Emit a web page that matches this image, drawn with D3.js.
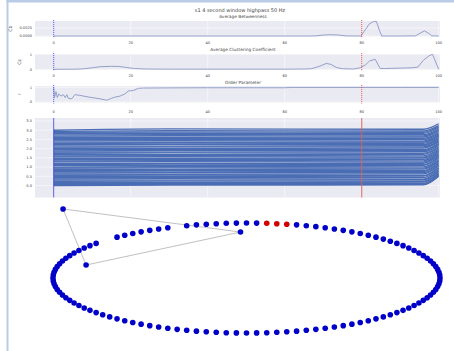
<!DOCTYPE html>
<html>
<head>
<meta charset="utf-8">
<script src="https://cdn.jsdelivr.net/npm/d3@7"></script>
<style>
  body { margin: 0; background: #fff; }
  text { font-family: "DejaVu Sans", sans-serif; fill: #444; }
</style>
</head>
<body>
<svg width="454" height="351"></svg>
<script>
// Sync panels + network snapshot

// ---- data ----
const ticksX = [0, 20, 40, 60, 80, 100];
const markBlue = 0, markRed = 80;

// average betweenness
const btT = [0, 10, 30, 50, 66, 68, 70, 72, 74, 76, 79.8, 81, 82, 83, 83.8, 84.6, 85.2, 90, 94, 95.2, 96.3, 97.3, 98.2, 100];
const btV = [0, 0, 0, 0, 0, 0.00003, 0.0003, 0.0004, 0.0003, 0.00003, 0, 0.0021, 0.0038, 0.0045, 0.0046, 0.0018, 0, 0, 0.00005, 0.0009, 0.0016, 0.0009, 0.00005, 0];

// average clustering coefficient
const ccT = [0, 6, 8, 10, 12, 15, 17, 19, 21, 24, 30, 40, 50, 60, 65, 67, 69, 70.8, 72, 73.4, 75, 78, 79.6, 81, 82, 83.5, 84.8, 86, 90, 93, 94.6, 96, 97.5, 98.4, 100];
const ccV = [0, 0.01, 0.04, 0.1, 0.17, 0.2, 0.19, 0.12, 0.05, 0.02, 0.01, 0.01, 0.01, 0.01, 0.02, 0.04, 0.2, 0.39, 0.33, 0.12, 0.04, 0.02, 0.1, 0.3, 0.55, 0.67, 0.05, 0.05, 0.08, 0.1, 0.15, 0.6, 0.9, 1.0, 0];

// order parameter
const opT = [0, 0.2, 0.6, 0.95, 1.3, 1.9, 2.5, 3.0, 3.4, 3.8, 4.7, 5.5, 6.8, 9.4, 12, 13.8, 15, 15.9, 17.2, 18.5, 19.4, 20.7, 22, 23.3, 30, 40, 50, 60, 62, 70, 80, 90, 100];
const opV = [0.98, 0.3, 0.7, 0.3, 0.55, 0.4, 0.5, 0.3, 0.5, 0.25, 0.22, 0.5, 0.45, 0.32, 0.22, 0.12, 0.25, 0.33, 0.4, 0.55, 0.75, 0.78, 0.93, 0.95, 0.96, 0.97, 0.97, 0.97, 0.99, 0.99, 0.99, 0.99, 0.99];

// phases, one row per oscillator (value at t=0, 30, 96, 100)
const phaseT = [0, 30, 96, 100];
const phase0 = [0.00, 0.05, 0.10, 0.16, 0.22, 0.30, 0.36, 0.42, 0.50, 0.55, 0.62, 0.68, 0.75, 0.80, 0.88, 0.95, 1.00, 1.08, 1.14, 1.20, 1.28, 1.33, 1.40, 1.48, 1.55, 1.60, 1.68, 1.75, 1.82, 1.88, 1.95, 2.02, 2.08, 2.15, 2.22, 2.28, 2.35, 2.42, 2.48, 2.55, 2.62, 2.68, 2.75, 2.82, 2.88, 2.94, 3.00];
const phase30 = [0.02, 0.06, 0.12, 0.15, 0.24, 0.29, 0.37, 0.44, 0.49, 0.57, 0.61, 0.70, 0.74, 0.82, 0.87, 0.96, 1.02, 1.07, 1.16, 1.19, 1.29, 1.35, 1.41, 1.47, 1.56, 1.62, 1.67, 1.77, 1.81, 1.90, 1.96, 2.01, 2.10, 2.14, 2.23, 2.30, 2.34, 2.43, 2.50, 2.56, 2.61, 2.70, 2.76, 2.83, 2.90, 2.97, 3.07];
const phase96 = [0.03, 0.07, 0.11, 0.18, 0.23, 0.31, 0.35, 0.43, 0.51, 0.54, 0.63, 0.69, 0.76, 0.81, 0.89, 0.94, 1.01, 1.09, 1.13, 1.21, 1.27, 1.34, 1.42, 1.49, 1.54, 1.61, 1.69, 1.74, 1.83, 1.89, 1.94, 2.03, 2.09, 2.16, 2.21, 2.29, 2.36, 2.41, 2.49, 2.56, 2.63, 2.69, 2.76, 2.83, 2.89, 2.96, 3.05];
const phase100 = [0.50, 0.54, 0.58, 0.64, 0.69, 0.76, 0.80, 0.87, 0.94, 0.98, 1.06, 1.11, 1.18, 1.23, 1.30, 1.35, 1.41, 1.49, 1.53, 1.60, 1.66, 1.73, 1.80, 1.86, 1.91, 1.98, 2.05, 2.10, 2.18, 2.24, 2.29, 2.37, 2.42, 2.49, 2.54, 2.61, 2.68, 2.73, 2.80, 2.86, 2.93, 2.99, 3.05, 3.12, 3.18, 3.25, 3.35];

// network: ring of nodes, a few pulled out, a few highlighted
const NNODES = 120;
const movedIdx = [37, 45, 46];
const movedX = [-0.031, -0.948, -0.829];
const movedY = [0.836, 1.255, 0.236];
const edges = [[37, 45], [45, 46], [46, 37]];
const redIdx = [26, 27, 28];

// ---- layout ----
const svg = d3.select("svg");
const PL = 35, PR = 440;
const x = d3.scaleLinear().domain([0, 100]).range([53.7, 438.7]);

// frame
svg.append("rect").attr("x", 6.5).attr("y", 0).attr("width", 2).attr("height", 351).attr("fill", "#b9cbe5");
svg.append("rect").attr("x", 6.5).attr("y", 0).attr("width", 448).attr("height", 2.5).attr("fill", "#b9cbe5");

svg.append("text").attr("x", 240).attr("y", 11.5).attr("text-anchor", "middle")
  .style("font-size", "5px").text("s1 4 second window highpass 50 Hz");

const panels = [
  { top: 21, bot: 36.5, y: d3.scaleLinear().domain([0, 0.0025]).range([36, 28]),
    ticks: [0, 0.0025], fmt: d3.format(".4f"), title: "Average Betweenness", titleY: 17.5,
    label: "Cb", labelX: 11.5, tickY: 44, T: btT, V: btV },
  { top: 54, bot: 69.8, y: d3.scaleLinear().domain([0, 1]).range([69.3, 54.3]),
    ticks: [0, 1], fmt: d3.format("d"), title: "Average Clustering Coefficient", titleY: 51,
    label: "Cc", labelX: 21, tickY: 76.5, T: ccT, V: ccV },
  { top: 86, bot: 102.5, y: d3.scaleLinear().domain([0, 1]).range([102, 87.3]),
    ticks: [0, 1], fmt: d3.format("d"), title: "Order Parameter", titleY: 84,
    label: "r", labelX: 21, tickY: 113, T: opT, V: opV }
];

panels.forEach(function(p) {
  let g = svg.append("g");
  g.append("rect").attr("x", PL).attr("y", p.top).attr("width", PR - PL).attr("height", p.bot - p.top).attr("fill", "#eaeaf2");

  // grid
  g.selectAll(".gx").data(ticksX).enter().append("line")
    .attr("x1", d => x(d)).attr("x2", d => x(d)).attr("y1", p.top).attr("y2", p.bot)
    .attr("stroke", "#fff").attr("stroke-width", 0.5);
  g.selectAll(".gy").data(p.ticks).enter().append("line")
    .attr("x1", PL).attr("x2", PR).attr("y1", d => p.y(d)).attr("y2", d => p.y(d))
    .attr("stroke", "#fff").attr("stroke-width", 0.5);

  // tick labels
  g.selectAll(".tx").data(ticksX).enter().append("text")
    .attr("x", d => x(d)).attr("y", p.tickY).attr("text-anchor", "middle")
    .style("font-size", "3.6px").text(d => d);
  g.selectAll(".ty").data(p.ticks).enter().append("text")
    .attr("x", 32).attr("y", d => p.y(d) + 1.3).attr("text-anchor", "end")
    .style("font-size", "3.6px").text(d => p.fmt(d));

  g.append("text").attr("x", 243).attr("y", p.titleY).attr("text-anchor", "middle")
    .style("font-size", "4.3px").text(p.title);
  g.append("text").attr("transform", "translate(" + p.labelX + "," + (p.top + p.bot) / 2 + ") rotate(-90)")
    .attr("text-anchor", "middle").style("font-size", "4.5px").text(p.label);

  // curve
  let line = d3.line().x((d, i) => x(p.T[i])).y(d => p.y(d));
  g.append("path").datum(p.V).attr("d", line).attr("fill", "none")
    .attr("stroke", "#8a97c4").attr("stroke-width", 0.9);

  // markers
  g.append("line").attr("x1", x(markBlue)).attr("x2", x(markBlue)).attr("y1", p.top - 1).attr("y2", p.bot + 1)
    .attr("stroke", "#3b3bf0").attr("stroke-width", 0.8).attr("stroke-dasharray", "1.2,0.8");
  g.append("line").attr("x1", x(markRed)).attr("x2", x(markRed)).attr("y1", p.top - 1).attr("y2", p.bot + 1)
    .attr("stroke", "#e53a3a").attr("stroke-width", 0.8).attr("stroke-dasharray", "1.2,0.8");
});

// phase raster
const ph = { top: 118, bot: 197.5 };
const yPh = d3.scaleLinear().domain([0, 3.5]).range([185.5, 121]);
const phTicks = [0, 0.5, 1, 1.5, 2, 2.5, 3, 3.5];
let gp = svg.append("g");
gp.append("rect").attr("x", PL).attr("y", ph.top).attr("width", PR - PL).attr("height", ph.bot - ph.top).attr("fill", "#eaeaf2");
gp.selectAll(".gy").data(phTicks).enter().append("line")
  .attr("x1", PL).attr("x2", PR).attr("y1", d => yPh(d)).attr("y2", d => yPh(d))
  .attr("stroke", "#fff").attr("stroke-width", 0.5);
gp.selectAll(".gx").data(ticksX).enter().append("line")
  .attr("x1", d => x(d)).attr("x2", d => x(d)).attr("y1", ph.top).attr("y2", ph.bot)
  .attr("stroke", "#fff").attr("stroke-width", 0.5);
gp.selectAll(".ty").data(phTicks).enter().append("text")
  .attr("x", 32).attr("y", d => yPh(d) + 1.3).attr("text-anchor", "end")
  .style("font-size", "3.6px").text(d => d3.format(".1f")(d));

const phaseRows = phase0.map((v, i) => [v, phase30[i], phase96[i], phase100[i]]);
const phLine = d3.line().x((d, i) => x(phaseT[i])).y(d => yPh(d)).curve(d3.curveMonotoneX);
gp.selectAll(".ph").data(phaseRows).enter().append("path")
  .attr("d", phLine).attr("fill", "none").attr("stroke", "#4a6db4").attr("stroke-width", 1.35);

gp.append("line").attr("x1", x(markBlue)).attr("x2", x(markBlue)).attr("y1", ph.top).attr("y2", ph.bot)
  .attr("stroke", "#3a3ae0").attr("stroke-width", 0.8);
gp.append("line").attr("x1", x(markRed)).attr("x2", x(markRed)).attr("y1", ph.top).attr("y2", ph.bot)
  .attr("stroke", "#e06060").attr("stroke-width", 1.2).attr("opacity", 0.8);

// network
const nx = d3.scaleLinear().domain([-1, 1]).range([53, 440]);
const ny = d3.scaleLinear().domain([-1, 1]).range([333, 223]);
const nodes = d3.range(NNODES).map(function(i) {
  let a = 2 * Math.PI * i / NNODES;
  let k = movedIdx.indexOf(i);
  return { id: i,
    px: k >= 0 ? movedX[k] : Math.cos(a),
    py: k >= 0 ? movedY[k] : Math.sin(a),
    red: redIdx.includes(i) };
});

svg.append("g").selectAll("line").data(edges).enter().append("line")
  .attr("x1", d => nx(nodes[d[0]].px)).attr("y1", d => ny(nodes[d[0]].py))
  .attr("x2", d => nx(nodes[d[1]].px)).attr("y2", d => ny(nodes[d[1]].py))
  .attr("stroke", "#b0b0b0").attr("stroke-width", 0.8);

svg.append("g").selectAll("circle").data(nodes).enter().append("circle")
  .attr("cx", d => nx(d.px)).attr("cy", d => ny(d.py)).attr("r", 2.8)
  .attr("fill", d => d.red ? "#d40000" : "#0000c8");
</script>
</body>
</html>
